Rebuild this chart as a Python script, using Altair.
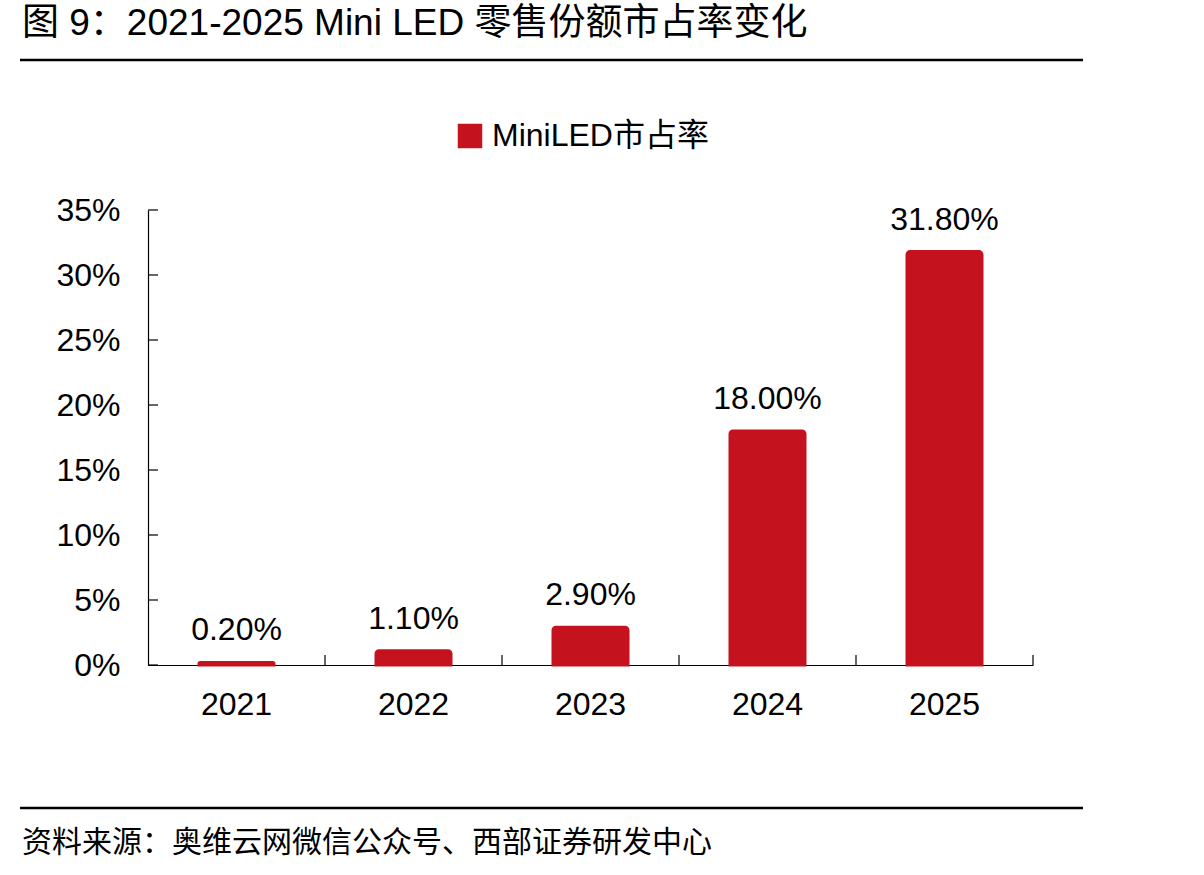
import altair as alt
import pandas as pd

years = ["2021", "2022", "2023", "2024", "2025"]
share = [0.2, 1.1, 2.9, 18.0, 31.8]
share_labels = ["0.20%", "1.10%", "2.90%", "18.00%", "31.80%"]
y_ticks = [0, 5, 10, 15, 20, 25, 30, 35]
series_name = "MiniLED市占率"
title_text = "图 9：2021-2025 Mini LED 零售份额市占率变化"
source_text = "资料来源：奥维云网微信公众号、西部证券研发中心"

RED = "#C4121F"
FONT = "Liberation Sans, Noto Sans CJK SC"
W, H = 885, 455
LEFT, TOP = 148, 210

df = pd.DataFrame({"year": years, "share": share, "label": share_labels,
                   "series": [series_name] * len(years)})
ticks_df = pd.DataFrame({"v": y_ticks})

x_enc = alt.X("year:N", scale=alt.Scale(paddingInner=0, paddingOuter=0),
              axis=alt.Axis(title=None, ticks=False, labelFontSize=32, labelFont=FONT,
                            labelColor="black", labelPadding=24, labelAngle=0,
                            domainColor="black", domainWidth=1.2))
y_scale = alt.Scale(domain=[0, 35], nice=False)

bars = alt.Chart(df).mark_bar(size=75, cornerRadiusTopLeft=3, cornerRadiusTopRight=3,
                              stroke=RED, strokeWidth=3).encode(
    x=x_enc,
    y=alt.Y("share:Q", scale=y_scale,
            axis=alt.Axis(title=None, values=y_ticks, ticks=False, labelExpr="datum.value + '%'",
                          labelFontSize=32, labelFont=FONT, labelColor="black", labelPadding=28,
                          domainColor="black", domainWidth=1.2, grid=False)),
    color=alt.Color("series:N", scale=alt.Scale(range=[RED]),
                    legend=alt.Legend(title=None, orient="none", legendX=306, legendY=-90,
                                      symbolType="square", symbolSize=600, symbolStrokeWidth=0,
                                      labelFontSize=32, labelFont=FONT, labelColor="black",
                                      labelOffset=6, labelLimit=0)),
)

text = alt.Chart(df).mark_text(fontSize=32, font=FONT, color="black", dy=-22,
                               baseline="alphabetic").encode(
    x=alt.X("year:N"), y=alt.Y("share:Q", scale=y_scale), text="label:N")

yt = alt.Chart(ticks_df).mark_rule(color="black", strokeWidth=1.2).encode(
    y=alt.Y("v:Q", scale=y_scale), x=alt.value(0), x2=alt.value(10))

xt = alt.Chart(df).mark_rule(color="black", strokeWidth=1.2).encode(
    x=alt.X("year:N", bandPosition=1), y=alt.value(H), y2=alt.value(H - 10))

title_df = pd.DataFrame({"t": [title_text]})
title = alt.Chart(title_df).mark_text(fontSize=37, font=FONT, color="black", align="left",
                                      baseline="middle").encode(
    x=alt.value(22 - LEFT), y=alt.value(24 - TOP), text="t:N")

src_df = pd.DataFrame({"t": [source_text]})
src = alt.Chart(src_df).mark_text(fontSize=30, font=FONT, color="black", align="left",
                                  baseline="middle").encode(
    x=alt.value(22 - LEFT), y=alt.value(843 - TOP), text="t:N")

line_top = alt.Chart(title_df).mark_rule(color="black", strokeWidth=2.5).encode(
    x=alt.value(20 - LEFT), x2=alt.value(1083 - LEFT), y=alt.value(60 - TOP))
line_bot = alt.Chart(title_df).mark_rule(color="black", strokeWidth=2.5).encode(
    x=alt.value(20 - LEFT), x2=alt.value(1083 - LEFT), y=alt.value(808 - TOP))

chart = alt.layer(bars, text, yt, xt, title, src, line_top, line_bot).properties(
    width=W, height=H,
    background="white",
    autosize=alt.AutoSizeParams(type="none"),
    padding={"left": LEFT, "top": TOP, "right": 1204 - LEFT - W, "bottom": 875 - TOP - H},
).configure_view(strokeWidth=0, stroke="transparent")

chart.save("out.html", embed_options={"renderer": "svg", "actions": False})
